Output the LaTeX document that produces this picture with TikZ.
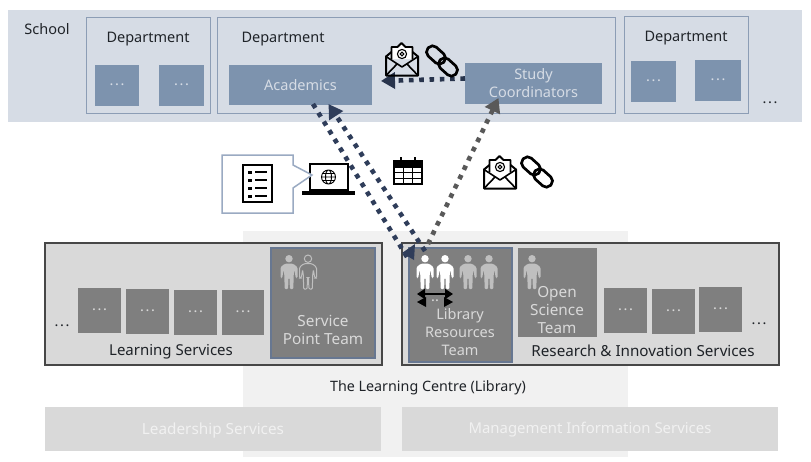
\documentclass[tikz,border=0pt]{standalone}
\usepackage{fontspec}
\setmainfont{Noto Sans}
\usetikzlibrary{arrows.meta,calc}
\definecolor{schoolbg}{HTML}{D6DCE5}
\definecolor{deptline}{HTML}{8C9DB5}
\definecolor{bluebox}{HTML}{7D93AE}
\definecolor{libbg}{HTML}{F1F1F1}
\definecolor{svcbg}{HTML}{D9D9D9}
\definecolor{teambox}{HTML}{7F7F7F}
\definecolor{navy}{HTML}{2F3D5A}
\definecolor{darkdot}{HTML}{595959}
\definecolor{paleperson}{HTML}{BFBFBF}
\definecolor{calloutline}{HTML}{9AAAC2}
\definecolor{inktext}{HTML}{1F2328}
\tikzset{
  every node/.style={inner sep=0pt,outer sep=0pt,font=\fontsize{14.5}{18}\selectfont,text=inktext,align=center},
  bigtxt/.style={font=\fontsize{15.3}{18}\selectfont},
  bxschool/.style={fill=schoolbg},
  bxdept/.style={fill=schoolbg,draw=deptline,line width=1pt},
  bxblue/.style={fill=bluebox,text=schoolbg},
  bxlib/.style={fill=libbg},
  bxsvc/.style={fill=svcbg,draw=darkdot!80!black,line width=1.2pt},
  bxteam/.style={fill=teambox,text=svcbg},
  bxkey/.style={fill=teambox,draw=deptline!60!navy,line width=1.2pt,text=svcbg},
  bxghost/.style={fill=svcbg},
  ghosttxt/.style={text=libbg},
  flow/.style={line width=4.6pt,dash pattern=on 4.6pt off 5.7pt},
  flowtip/.style={-{Triangle[length=14pt,width=16pt]}},
  person/.pic={
    \path[pic actions] (0,0) circle (3.7);
    \path[pic actions,rounded corners=1.3pt] (-4.2,5) -- (4.2,5) -- (8.5,8.5) -- (8.5,19.5) -- (6.8,19.5) -- (5.4,11) -- (4.6,17) -- (4.4,30.5) -- (0.9,30.5) -- (0.5,19) -- (-0.5,19) -- (-0.9,30.5) -- (-4.4,30.5) -- (-4.6,17) -- (-5.4,11) -- (-6.8,19.5) -- (-8.5,19.5) -- (-8.5,8.5) -- cycle;
  },
  envelope/.pic={
    \draw[black,line width=1.8pt,fill=white,line join=round] (6,17) -- (6,5) -- (12,5) -- (16,1) -- (20,5) -- (27,5) -- (27,17);
    \draw[black,line width=2pt,line join=round] (6,10) -- (0.5,14.5) -- (0.5,33.5) -- (32.5,33.5) -- (32.5,14.5) -- (27,10);
    \draw[black,line width=1.6pt,line join=round] (0.5,14.5) -- (16.5,25) -- (32.5,14.5);
    \draw[black,line width=1.6pt] (0.5,33.5) -- (12,21.5) (32.5,33.5) -- (21,21.5);
    \draw[black,line width=1.1pt] (16.5,12) circle (4.6) (16.5,12) circle (1.8);
  },
  chainlink/.pic={
    \draw[black,line width=2.7pt,rounded corners=5.5pt,rotate around={-42:(9,9)}] (-1.5,3) rectangle (19.5,15);
    \draw[black,line width=2.7pt,rounded corners=5.5pt,rotate around={-42:(21,21)}] (10.5,15) rectangle (31.5,27);
  },
}
\newcommand{\bx}[7]{%
  \pgfmathsetmacro{\bxw}{#4-#2}\pgfmathsetmacro{\bxh}{#5-#3}%
  \pgfmathsetmacro{\bxcx}{(#4+#2)/2}\pgfmathsetmacro{\bxcy}{(#5+#3)/2}%
  \node[#6,minimum width=\bxw pt,minimum height=\bxh pt] (#1) at (\bxcx,\bxcy) {#7};}
\newcommand{\wdots}{.\kern1.6pt.\kern1.6pt.}
\newcommand{\dotsmid}{\raisebox{2pt}{\wdots}}
\begin{document}
\begin{tikzpicture}[x=1pt,y=-1pt]
\useasboundingbox[fill=white] (0,0) rectangle (811,461);
% School
\bx{school}{8}{10}{802}{122}{bxschool}{}
\node (schooltxt) at (47,29) {School};
\bx{depta}{86}{17}{210}{113}{bxdept}{}
\bx{deptb}{217}{17}{615}{113}{bxdept}{}
\bx{deptc}{624}{16}{748}{113}{bxdept}{}
\node (depttxta) at (148,39.5) {Department};
\node (depttxtb) at (283,39.5) {Department};
\node (depttxtc) at (686,38.5) {Department};
\bx{ba}{95}{65}{139}{106}{bxblue}{\dotsmid}
\bx{bb}{159}{65}{204}{106}{bxblue}{\dotsmid}
\bx{acad}{229}{65}{372}{105}{bxblue}{Academics}
\bx{study}{465}{63}{602}{104}{bxblue}{Study\\Coordinators}
\bx{bc}{631}{61}{676}{102}{bxblue}{\dotsmid}
\bx{bd}{695}{60}{741}{101}{bxblue}{\dotsmid}
\node (schooldots) at (770,103) {\wdots};
% Library
\bx{lib}{243}{231}{628}{457}{bxlib}{}
\bx{learn}{45}{243}{382}{365}{bxsvc}{}
\bx{res}{402}{243}{779}{365}{bxsvc}{}
\bx{la}{78}{288}{121}{333}{bxteam}{\dotsmid}
\bx{lb}{126}{289}{169}{334}{bxteam}{\dotsmid}
\bx{lc}{174}{290}{217}{335}{bxteam}{\dotsmid}
\bx{ld}{222}{290}{264}{335}{bxteam}{\dotsmid}
\bx{spt}{271}{248}{375}{358}{bxkey}{}
\node[text=svcbg,bigtxt] (spttxt) at (323,330) {Service\\Point Team};
\node (learndots) at (62,326) {\wdots};
\node[font=\fontsize{15}{18}\selectfont] (learntxt) at (171,351.5) {Learning Services};
\bx{lrt}{409}{248}{512}{362}{bxkey}{}
\node[text=svcbg] (lrttxt) at (460,332) {Library\\Resources\\Team};
\bx{ost}{518}{248}{597}{337}{bxteam}{}
\node[text=svcbg,bigtxt] (osttxt) at (557,310.5) {Open\\Science\\Team};
\bx{ra}{604}{288}{647}{333}{bxteam}{\dotsmid}
\bx{rb}{652}{289}{695}{334}{bxteam}{\dotsmid}
\bx{rc}{699}{287}{742}{332}{bxteam}{\dotsmid}
\node (resdots) at (759,324) {\wdots};
\node[font=\fontsize{15.2}{18}\selectfont] (restxt) at (643,350.5) {Research \& Innovation Services};
\node[font=\fontsize{14.3}{18}\selectfont] (libtxt) at (428,387.5) {The Learning Centre (Library)};
\bx{lead}{45}{407}{381}{451}{bxghost}{}
\bx{mis}{402}{407}{778}{451}{bxghost}{}
\node[ghosttxt,bigtxt] (leadtxt) at (213,431) {Leadership Services};
\node[ghosttxt,font=\fontsize{14.9}{18}\selectfont] (mistxt) at (590,430) {Management Information Services};
% People
\pic[fill=paleperson] at (289,258.7) {person};
\pic[draw=paleperson,line width=1pt] at (308,258.7) {person};
\pic[fill=white] at (425,258.7) {person};
\pic[fill=white] at (445,258.7) {person};
\pic[fill=paleperson] at (468,258.7) {person};
\pic[fill=paleperson] at (489,258.7) {person};
\pic[fill=paleperson] at (532,258.7) {person};
% Black double arrows
\coordinate (swapa) at (417,294);
\coordinate (swapb) at (453,294);
\coordinate (swapc) at (417,302);
\coordinate (swapd) at (453,302);
\draw[black,line width=2.6pt,{Triangle[length=8pt,width=10pt]}-{Triangle[length=8pt,width=10pt]}] (swapa) -- (swapb);
\fill[black] (swapc) -- (426,297) -- (426,307) -- cycle;
\fill[black] (swapd) -- (444,297) -- (444,307) -- cycle;
\node[text=svcbg] (swapdots) at (435,301) {..};
% Connectors
\draw[flow,draw=navy] ([xshift=12.5pt,yshift=1pt]acad.south) -- ([xshift=-2pt,yshift=-9pt]lrt.north west);
\fill[navy] ([xshift=-7pt,yshift=-5pt]lrt.north west) -- ([xshift=5pt,yshift=-12pt]lrt.north west) -- ([xshift=6pt,yshift=4pt]lrt.north west) -- cycle;
\draw[flow,flowtip,draw=navy] ([xshift=16pt,yshift=-3pt]lrt.north west) -- ([xshift=28pt,yshift=1pt]acad.south);
\draw[flow,flowtip,draw=darkdot] ([xshift=19pt,yshift=4pt]lrt.north west) -- ([xshift=-35pt,yshift=6pt]study.south);
\draw[flow,flowtip,draw=navy!85!black] ([yshift=5pt]study.west) -- ([xshift=9pt,yshift=4pt]acad.east);
% Laptop
\draw[black,line width=2pt,fill=white] (310,164) rectangle (348,190);
\fill[black] (302,191) rectangle (355,195);
\draw[black,line width=.9pt] (328.5,177) circle (7) (328.5,177) ellipse (3 and 7) (321.5,177) -- (335.5,177) (322.5,173.5) -- (334.5,173.5) (322.5,180.5) -- (334.5,180.5);
% Callout
\coordinate (calloutapex) at (312,175);
\draw[calloutline,line width=1.5pt,fill=white,line join=miter] (222,155) -- (293,155) -- (293,165) -- (calloutapex) -- (293,188) -- (293,213) -- (222,213) -- cycle;
% Document icon
\draw[black,line width=2.4pt,fill=white] (243,165) rectangle (272,202);
\foreach \yy in {172,180,188,196}{
  \fill[black] (248,\yy-1.5) rectangle (252,\yy+1.5);
  \draw[black,line width=1.1pt] (255,\yy) -- (267,\yy);
}
% Calendar
\draw[black,line width=1.6pt,fill=white] (394,161) rectangle (422,184);
\fill[black] (394,161) rectangle (422,167.5);
\draw[black,line width=1pt] (394,172.5) -- (422,172.5) (394,178) -- (422,178) (403,167) -- (403,184) (412.5,167) -- (412.5,184);
\draw[black,line width=1.8pt] (401,157) -- (401,162) (415,157) -- (415,162);
% Envelopes and links
\pic at (385.5,42) {envelope};
\pic at (427,46) {chainlink};
\pic at (483.5,155) {envelope};
\pic at (522,157) {chainlink};
\end{tikzpicture}
\end{document}
